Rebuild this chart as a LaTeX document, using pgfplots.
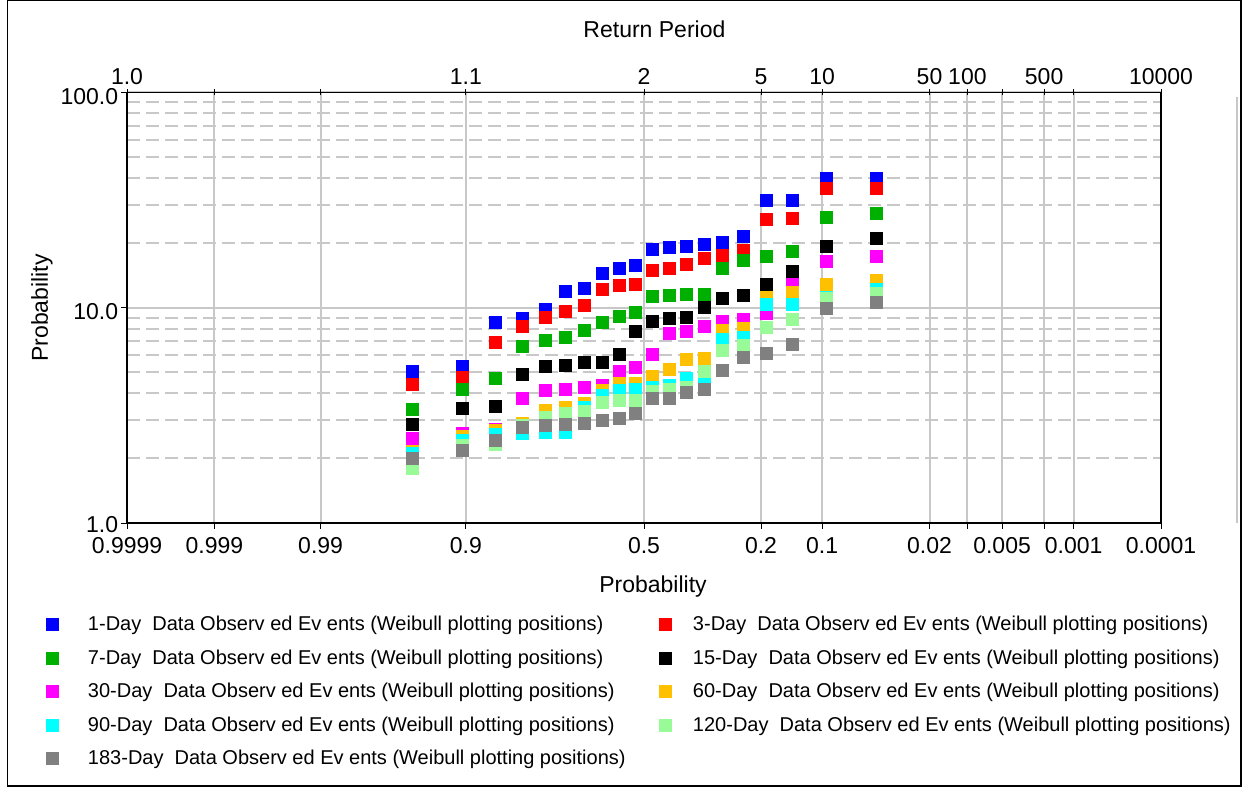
\documentclass[border=0pt]{standalone}
\usepackage{fontspec}
\setmainfont{Liberation Sans}
\usepackage{pgfplots}
\usepackage{pgfplotstable}
\pgfplotsset{compat=1.18}
\definecolor{c1}{RGB}{0,0,255}
\definecolor{c3}{RGB}{255,0,0}
\definecolor{c7}{RGB}{0,176,0}
\definecolor{c15}{RGB}{0,0,0}
\definecolor{c30}{RGB}{255,0,255}
\definecolor{c60}{RGB}{255,192,0}
\definecolor{c90}{RGB}{0,255,255}
\definecolor{c120}{RGB}{152,251,152}
\definecolor{c183}{RGB}{128,128,128}
\definecolor{gridgray}{RGB}{200,200,200}

% z = standard normal quantile of non-exceedance (Weibull m/21, n=20)
\pgfplotstableread{
z       d1    d3    d7    d15   d30   d60   d90   d120  d183
-1.6684 5.09  4.43  3.38  2.89  2.48  2.15  2.10  1.80  2.00
-1.3092 5.32  4.74  4.17  3.42  2.62  2.52  2.43  2.30  2.18
-1.0676 8.58  6.91  4.72  3.48  2.72  2.69  2.58  2.31  2.43
-0.8761 8.95  8.24  6.64  4.90  3.79  2.91  2.62  2.85  2.79
-0.7124 9.86  9.01  7.05  5.37  4.14  3.34  2.63  3.09  2.84
-0.5659 11.9  9.61  7.30  5.42  4.18  3.46  2.65  3.22  2.86
-0.4307 12.27 10.25 7.83  5.57  4.27  3.61  3.46  3.30  2.91
-0.3030 14.4  12.14 8.54  5.58  4.38  4.15  3.94  3.65  3.00
-0.1800 15.3  12.7  9.11  6.08  5.08  4.44  4.14  3.72  3.05
-0.0597 15.7  12.9  9.52  7.78  5.26  4.46  4.17  3.73  3.22
0.0597  18.6  14.9  11.35 8.64  6.06  4.81  4.26  4.10  3.79
0.1800  19.1  15.2  11.45 8.89  7.63  5.18  4.34  4.19  3.79
0.3030  19.3  15.9  11.55 9.04  7.76  5.74  4.69  4.25  4.06
0.4307  19.8  16.9  11.6  10.06 8.19  5.81  4.77  5.07  4.19
0.5659  20.1  17.5  15.3  11.1  8.67  7.85  7.11  6.34  5.13
0.7124  21.5  18.4  16.6  11.4  8.79  8.00  7.31  6.69  5.90
0.8761  31.6  25.8  17.3  12.8  9.38  11.2  10.35 8.08  6.17
1.0676  31.6  26.1  18.3  14.8  12.9  11.8  10.4  8.83  6.76
1.3092  40.0  35.8  26.3  19.2  16.4  12.8  11.2  11.0  9.89
1.6684  40.0  35.8  27.5  21.0  17.3  13.4  12.2  11.7  10.6
}\data

\newcommand{\colone}[1]{\makebox[434.25pt][l]{\hspace*{6pt}#1}}

\begin{document}
\begin{tikzpicture}
\useasboundingbox (0,0) rectangle (937.5pt,-594.75pt);
\draw[line width=1pt] (5.5pt,-0.6pt) rectangle (930.75pt,-589.5pt);
\draw[gridgray, line width=1.5pt] (927.75pt,-72.75pt) -- (927.75pt,-392.25pt);

\begin{axis}[
  at={(95.25pt,-392.25pt)}, anchor=south west,
  scale only axis, width=775.5pt, height=323pt,
  xmin=-3.71902, xmax=3.71902,
  ymode=log, ymin=1, ymax=100,
  /pgf/number format/assume math mode=true,
  xtick={-3.7190,-3.0902,-2.3263,-1.2816,0,0.8416,1.2816,2.0537,2.3263,2.5758,2.8782,3.0902,3.7190},
  xticklabels={0.9999,0.999,0.99,0.9,0.5,0.2,0.1,0.02,{},0.005,{},0.001,0.0001},
  ytick={1,10,100}, yticklabels={\raisebox{5pt}{1.0},10.0,100.0},
  minor ytick={2,3,4,5,6,7,8,9,20,30,40,50,60,70,80,90},
  xtick pos=bottom, ytick pos=left,
  tick align=outside, major tick length=4.5pt, minor tick length=0pt,
  tick style={black, line width=0.75pt},
  xmajorgrids, ymajorgrids, yminorgrids,
  major grid style={gridgray, line width=1.5pt, solid},
  minor grid style={gridgray, line width=1.5pt, dash pattern=on 9.75pt off 4.5pt},
  axis line style={black, line width=1pt},
  every tick label/.append style={font=\fontsize{17.25}{20}\selectfont},
  xticklabel style={anchor=base, inner sep=0pt, yshift=-18.75pt},
  yticklabel style={anchor=east, inner sep=0pt, xshift=-2pt, yshift=-3.3pt},
  label style={font=\fontsize{17.25}{20}\selectfont},
  xlabel={Probability},
  xlabel style={at={(axis description cs:0.5087,0)}, anchor=base, inner sep=0pt, yshift=-51.75pt},
  ylabel={Probability},
  ylabel style={at={(axis description cs:-0.0822,0.4992)}, anchor=center, inner sep=0pt},
  title={Return Period},
  title style={font=\fontsize{17.25}{20}\selectfont, at={(axis description cs:0.5101,1)}, anchor=base, inner sep=0pt, yshift=35.45pt},
  legend columns=2,
  legend cell align=left,
  legend style={at={(axis description cs:-0.07834,-0.2169)}, anchor=north west,
    draw=none, fill=none, inner sep=0pt, outer sep=0pt,
    font=\fontsize{15}{18}\selectfont, row sep=12.7pt, column sep=0pt,
    nodes={inner sep=0pt, outer sep=0pt},
    /tikz/every odd column/.append style={column sep=0pt},
    /tikz/every even column/.append style={column sep=0pt}},
  legend image code/.code={\path[draw=none, fill=none] (0pt,0pt) rectangle (25.5pt,0.1pt); \draw[#1, mark size=4.5pt] plot coordinates {(4.5pt,0pt)};},
  every axis plot/.append style={only marks, mark=square*, mark size=4.5pt, mark options={draw=none}},
]
\addplot[color=c1, fill=c1] table[x=z, y=d1] {\data};
\addlegendentry{\colone{1-Day\ \ Data Observ ed Ev ents (Weibull plotting positions)}}
\addplot[color=c3, fill=c3] table[x=z, y=d3] {\data};
\addlegendentry{3-Day\ \ Data Observ ed Ev ents (Weibull plotting positions)}
\addplot[color=c7, fill=c7] table[x=z, y=d7] {\data};
\addlegendentry{\colone{7-Day\ \ Data Observ ed Ev ents (Weibull plotting positions)}}
\addplot[color=c15, fill=c15] table[x=z, y=d15] {\data};
\addlegendentry{15-Day\ \ Data Observ ed Ev ents (Weibull plotting positions)}
\addplot[color=c30, fill=c30] table[x=z, y=d30] {\data};
\addlegendentry{\colone{30-Day\ \ Data Observ ed Ev ents (Weibull plotting positions)}}
\addplot[color=c60, fill=c60] table[x=z, y=d60] {\data};
\addlegendentry{60-Day\ \ Data Observ ed Ev ents (Weibull plotting positions)}
\addplot[color=c90, fill=c90] table[x=z, y=d90] {\data};
\addlegendentry{\colone{90-Day\ \ Data Observ ed Ev ents (Weibull plotting positions)}}
\addplot[color=c120, fill=c120] table[x=z, y=d120] {\data};
\addlegendentry{120-Day\ \ Data Observ ed Ev ents (Weibull plotting positions)}
\addplot[color=c183, fill=c183] table[x=z, y=d183] {\data};
\addlegendentry{\colone{183-Day\ \ Data Observ ed Ev ents (Weibull plotting positions)}}
\end{axis}

\begin{axis}[
  at={(95.25pt,-392.25pt)}, anchor=south west,
  scale only axis, width=775.5pt, height=323pt,
  xmin=-3.71902, xmax=3.71902, ymin=0, ymax=1,
  xtick={-3.7190,-3.0902,-2.3263,-1.2816,0,0.8416,1.2816,2.0537,2.3263,2.5758,2.8782,3.0902,3.7190},
  xticklabels={1.0,{},{},1.1,2,5,10,50,100,{},500,{},10000},
  xtick pos=top, xticklabel pos=top, ytick=\empty,
  tick align=center, major tick length=4.5pt,
  tick style={black, line width=0.75pt},
  axis line style={black, line width=1pt},
  every tick label/.append style={font=\fontsize{17.25}{20}\selectfont},
  xticklabel style={anchor=base, inner sep=0pt, yshift=3.95pt},
]
\end{axis}
\end{tikzpicture}
\end{document}
